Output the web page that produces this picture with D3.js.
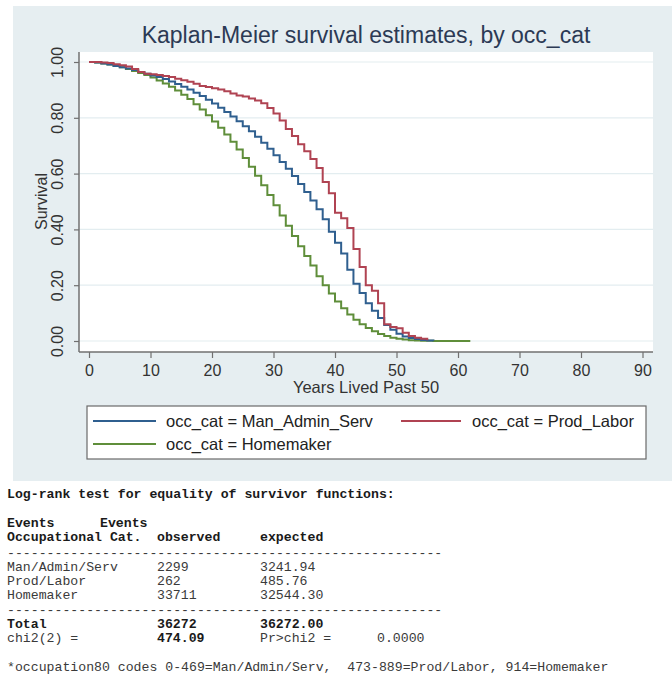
<!DOCTYPE html>
<html>
<head>
<meta charset="utf-8">
<script src="https://cdn.jsdelivr.net/npm/d3@7"></script>
<style>
  html, body { margin: 0; padding: 0; background: #ffffff; }
  svg { display: block; }
</style>
</head>
<body>
<svg id="chart" width="672" height="677"></svg>
<script>
// ---------------- DATA ----------------
const years = [0,1,2,3,4,5,6,7,8,9,10,11,12,13,14,15,16,17,18,19,20,21,22,23,24,25,26,27,28,29,30,
  31,32,33,34,35,36,37,38,39,40,41,42,43,44,45,46,47,48,49,50,51,52,53,54,55,56,57,58,59,60,61,62];

// survival estimate at the start of each year (step function)
const manAdminServ = [1.000,0.998,0.995,0.991,0.986,0.981,0.977,0.971,0.964,0.958,0.952,0.946,0.939,0.930,
  0.921,0.911,0.901,0.890,0.878,0.865,0.851,0.836,0.821,0.805,0.788,0.770,0.752,0.732,0.711,0.689,0.666,
  0.642,0.617,0.591,0.563,0.534,0.504,0.472,0.436,0.392,0.352,0.314,0.255,0.205,0.172,0.135,0.108,0.082,
  0.057,0.040,0.026,0.016,0.011,0.007,0.004,0.002,0.001];
const prodLabor = [1.000,1.000,0.998,0.996,0.992,0.988,0.984,0.975,0.964,0.958,0.956,0.953,0.950,0.946,
  0.940,0.935,0.929,0.922,0.914,0.910,0.906,0.901,0.895,0.887,0.880,0.876,0.869,0.862,0.852,0.835,0.815,
  0.790,0.760,0.735,0.705,0.680,0.652,0.620,0.570,0.530,0.460,0.440,0.405,0.330,0.265,0.200,0.180,0.135,
  0.060,0.050,0.046,0.030,0.018,0.012,0.008,0.003];
const homemaker = [1.000,0.998,0.995,0.991,0.986,0.981,0.975,0.968,0.961,0.953,0.944,0.934,0.923,0.911,
  0.898,0.883,0.867,0.849,0.830,0.809,0.787,0.764,0.740,0.714,0.686,0.656,0.625,0.592,0.558,0.523,0.487,
  0.450,0.413,0.376,0.340,0.305,0.271,0.232,0.200,0.170,0.142,0.117,0.095,0.076,0.060,0.047,0.035,0.025,
  0.018,0.012,0.008,0.005,0.003,0.002,0.001,0.001,0.000,0.000,0.000,0.000,0.000,0.000,0.000];

const seriesNames = ["occ_cat = Man_Admin_Serv", "occ_cat = Prod_Labor", "occ_cat = Homemaker"];
const seriesColors = ["#2f5f8f", "#b04352", "#5f8e3a"];
const xTicks = [0,10,20,30,40,50,60,70,80,90];
const yTicks = [0,0.2,0.4,0.6,0.8,1.0];

const tableTitle = "Log-rank test for equality of survivor functions:";
const tableHead1 = ["Events", "Events"];
const tableHead2 = ["Occupational Cat.", "observed", "expected"];
const tableCats = ["Man/Admin/Serv", "Prod/Labor", "Homemaker"];
const tableObserved = ["2299", "262", "33711"];
const tableExpected = ["3241.94", "485.76", "32544.30"];
const tableTotal = ["Total", "36272", "36272.00"];
const tableChi = ["chi2(2) =", "474.09", "Pr>chi2 =", "0.0000"];
const footnote = "*occupation80 codes 0-469=Man/Admin/Serv,  473-889=Prod/Labor, 914=Homemaker";

// ---------------- DRAW ----------------
const svg = d3.select("#chart");
const sans = "Liberation Sans, Arial, sans-serif";
const mono = "Liberation Mono, Courier New, monospace";

// graph region background
svg.append("rect").attr("x", 13).attr("y", 6).attr("width", 659).attr("height", 475)
  .attr("fill", "#e6eef1");

// plot region
const plot = { left: 79, right: 653, top: 52, bottom: 352 };
svg.append("rect").attr("x", plot.left).attr("y", plot.top)
  .attr("width", plot.right - plot.left).attr("height", plot.bottom - plot.top)
  .attr("fill", "#ffffff");

const x = d3.scaleLinear().domain([0, 90]).range([89, 642.5]);
const y = d3.scaleLinear().domain([0, 1]).range([341, 62]);

// gridlines
svg.append("g").selectAll("line").data(yTicks).join("line")
  .attr("x1", plot.left).attr("x2", plot.right)
  .attr("y1", d => y(d)).attr("y2", d => y(d))
  .attr("stroke", "#e3edf0").attr("stroke-width", 1.2);

// title
svg.append("text").attr("x", 366).attr("y", 43).attr("text-anchor", "middle")
  .attr("font-family", sans).attr("font-size", 23).attr("fill", "#2c3a55")
  .text("Kaplan-Meier survival estimates, by occ_cat");

// curves
const line = d3.line().x(d => x(d[0])).y(d => y(d[1])).curve(d3.curveStepAfter);
const allSeries = [manAdminServ, prodLabor, homemaker];
// draw homemaker first, then man/admin, then prod/labor on top
[2, 0, 1].forEach(i => {
  const pts = allSeries[i].map((v, k) => [years[k], v]);
  svg.append("path").datum(pts).attr("d", line)
    .attr("fill", "none").attr("stroke", seriesColors[i]).attr("stroke-width", 2)
    .attr("stroke-linejoin", "miter");
});

// axes
const axisColor = "#707070";
const yAxis = d3.axisLeft(y).tickValues(yTicks).tickSize(5).tickFormat(d3.format(".2f"));
const gy = svg.append("g").attr("transform", `translate(${plot.left},0)`).call(yAxis);
gy.select(".domain").attr("d", `M0,${plot.top}V${plot.bottom}`).attr("stroke", axisColor).attr("stroke-width", 1.5);
gy.selectAll(".tick line").attr("stroke", axisColor).attr("stroke-width", 1.2);
gy.selectAll(".tick text")
  .attr("font-family", sans).attr("font-size", 16).attr("fill", "#333")
  .attr("x", null).attr("dy", null)
  .attr("text-anchor", "middle")
  .attr("transform", "translate(-16,0) rotate(-90)");

const xAxis = d3.axisBottom(x).tickValues(xTicks).tickSize(6).tickFormat(d3.format("d"));
const gx = svg.append("g").attr("transform", `translate(0,${plot.bottom})`).call(xAxis);
gx.select(".domain").attr("d", `M${plot.left},0H${plot.right}`).attr("stroke", axisColor).attr("stroke-width", 1.5);
gx.selectAll(".tick line").attr("stroke", axisColor).attr("stroke-width", 1.2);
gx.selectAll(".tick text")
  .attr("font-family", sans).attr("font-size", 16).attr("fill", "#333")
  .attr("y", 24).attr("dy", null);

// axis titles
svg.append("text").attr("transform", "translate(47,201.5) rotate(-90)")
  .attr("text-anchor", "middle").attr("font-family", sans).attr("font-size", 16).attr("fill", "#333")
  .text("Survival");
svg.append("text").attr("x", 366).attr("y", 393).attr("text-anchor", "middle")
  .attr("font-family", sans).attr("font-size", 16.5).attr("fill", "#333")
  .text("Years Lived Past 50");

// legend
svg.append("rect").attr("x", 87).attr("y", 406).attr("width", 559).attr("height", 53)
  .attr("fill", "#ffffff").attr("stroke", "#6a6a6a").attr("stroke-width", 1.2);
const legendPos = [
  { lx1: 93, lx2: 156, tx: 166, cy: 421 },
  { lx1: 401, lx2: 461, tx: 472, cy: 421 },
  { lx1: 93, lx2: 156, tx: 166, cy: 444 }
];
legendPos.forEach((p, i) => {
  svg.append("line").attr("x1", p.lx1).attr("x2", p.lx2).attr("y1", p.cy).attr("y2", p.cy)
    .attr("stroke", seriesColors[i]).attr("stroke-width", 2);
  svg.append("text").attr("x", p.tx).attr("y", p.cy + 6)
    .attr("font-family", sans).attr("font-size", 16.5).attr("fill", "#222")
    .text(seriesNames[i]);
});

// log-rank table
function mtext(str, tx, ty, bold) {
  svg.append("text").attr("x", tx).attr("y", ty)
    .attr("font-family", mono).attr("font-size", 13.2)
    .attr("font-weight", bold ? "bold" : "normal")
    .attr("fill", bold ? "#1a1a1a" : "#3a3a3a")
    .attr("xml:space", "preserve").style("white-space", "pre")
    .text(str);
}
const colX = [7, 157, 260, 377];
mtext(tableTitle, colX[0], 498, true);
mtext(tableHead1[0], colX[0], 527, true);
mtext(tableHead1[1], 100, 527, true);
tableHead2.forEach((s, i) => mtext(s, colX[i], 541, true));
mtext("-".repeat(55), colX[0], 557, false);
tableCats.forEach((c, i) => {
  const ty = 571 + i * 14;
  mtext(c, colX[0], ty, false);
  mtext(tableObserved[i], colX[1], ty, false);
  mtext(tableExpected[i], colX[2], ty, false);
});
mtext("-".repeat(55), colX[0], 614, false);
tableTotal.forEach((s, i) => mtext(s, colX[i], 628, true));
tableChi.forEach((s, i) => mtext(s, colX[i], 642, i === 1));
mtext(footnote, colX[0], 671, false);
</script>
</body>
</html>
